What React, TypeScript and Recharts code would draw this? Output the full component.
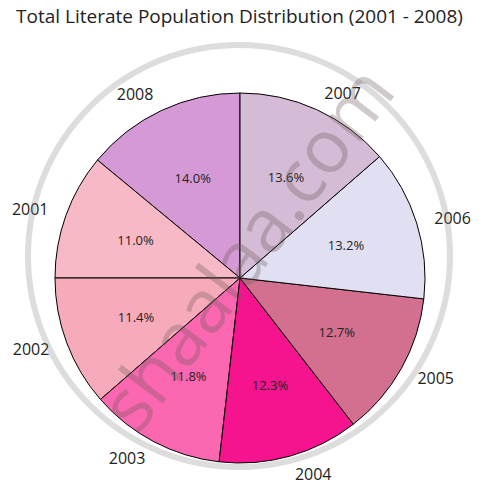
import { PieChart, Pie, Cell } from 'recharts';

// slices listed counterclockwise from 12 o'clock, as in the picture
const years = ['2008', '2001', '2002', '2003', '2004', '2005', '2006', '2007'];
const shares = [14.0, 11.0, 11.4, 11.8, 12.3, 12.7, 13.2, 13.6];
const colors = ['#D59AD6', '#F7B9C5', '#F7ABBA', '#FB67B0', '#F5148E', '#D4708F', '#E0E0F2', '#D4BBD6'];

const data = years.map((y, i) => ({ name: y, value: shares[i] }));

const RADIAN = Math.PI / 180;
const font = "'Open Sans', 'Noto Sans', sans-serif";

const renderLabel = (props: any) => {
  const { cx, cy, midAngle, outerRadius, index } = props;
  const cos = Math.cos(-midAngle * RADIAN);
  const sin = Math.sin(-midAngle * RADIAN);
  const ox = cx + outerRadius * 1.1 * cos;
  const oy = cy + outerRadius * 1.1 * sin;
  const ix = cx + outerRadius * 0.6 * cos;
  const iy = cy + outerRadius * 0.6 * sin;
  return (
    <g>
      <text x={ox} y={oy} textAnchor={cos >= 0 ? 'start' : 'end'} dominantBaseline="central"
        fontSize={16} fill="#222" fontFamily={font}>
        {years[index]}
      </text>
      <text x={ix} y={iy} textAnchor="middle" dominantBaseline="central"
        fontSize={13} fill="#222" fontFamily={font}>
        {shares[index].toFixed(1)}%
      </text>
    </g>
  );
};

export default function App() {
  return (
    <div style={{ position: 'relative', width: 479, height: 491, background: '#fff' }}>
      <style>{`body{margin:0}`}</style>
      <div style={{ position: 'absolute', top: 3, left: 0, width: 479, textAlign: 'center',
        fontFamily: font, fontSize: 19, color: '#222' }}>
        Total Literate Population Distribution (2001 - 2008)
      </div>
      <div style={{ position: 'absolute', top: 0, left: 0 }}>
        <PieChart width={479} height={491} margin={{ top: 0, right: 0, bottom: 0, left: 0 }}>
          <Pie data={data} dataKey="value" nameKey="name" cx={240} cy={278}
            outerRadius={185} startAngle={90} endAngle={450}
            stroke="#000" strokeWidth={1} labelLine={false} label={renderLabel}
            isAnimationActive={false}>
            {data.map((d, i) => <Cell key={d.name} fill={colors[i]} />)}
          </Pie>
        </PieChart>
      </div>
      <svg width={479} height={491} style={{ position: 'absolute', top: 0, left: 0, pointerEvents: 'none' }}>
        <circle cx={239} cy={256} r={211} fill="none" stroke="rgba(120,120,120,0.25)" strokeWidth={6} />
        <text x={245} y={247} textAnchor="middle" dominantBaseline="central"
          transform="rotate(-53 245 247)" fontSize={74} fontFamily={font}
          fill="rgba(110,90,90,0.32)">
          shaalaa.com
        </text>
      </svg>
    </div>
  );
}
